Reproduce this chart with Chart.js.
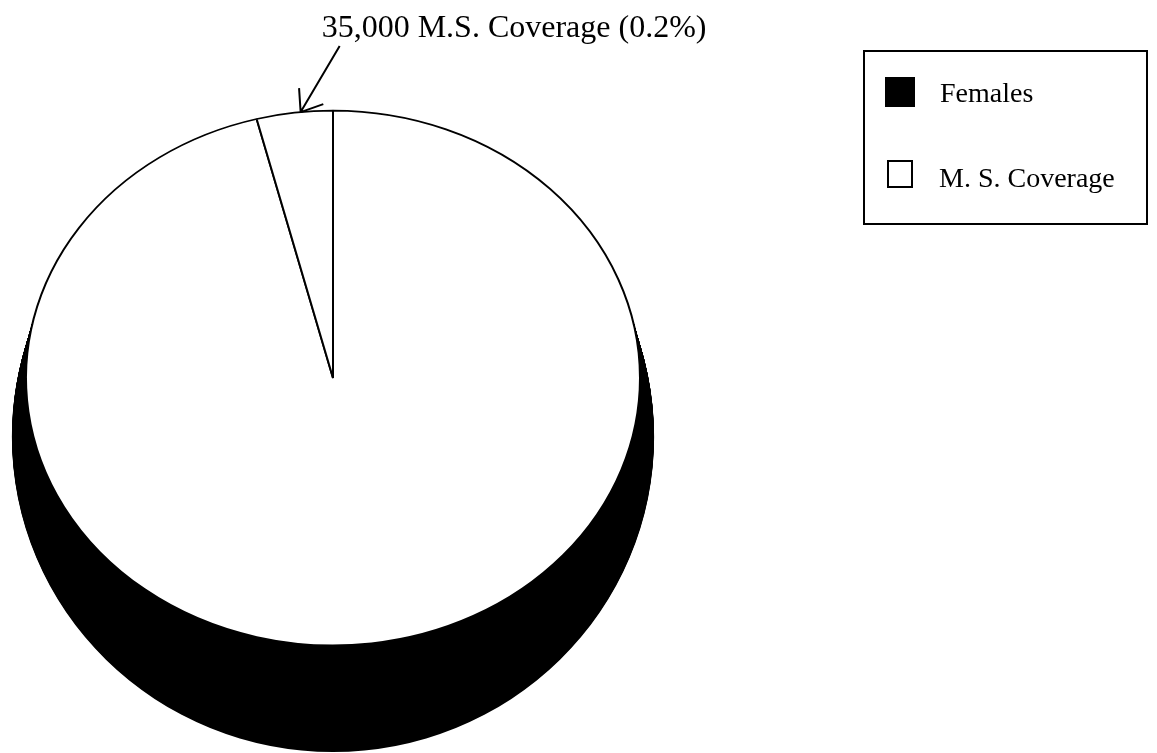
<!DOCTYPE html>
<html>
<head>
<meta charset="utf-8">
<script src="https://cdn.jsdelivr.net/npm/chart.js@4"></script>
<style>
  body { margin: 0; background: #fff; }
  #wrap { position: relative; width: 1157px; height: 753px; }
  #pie { position: absolute; left: 0; top: 0; }
  #legendBox {
    position: absolute; left: 863px; top: 50px; width: 281px; height: 171px;
    border: 2px solid #000;
    font-family: "Liberation Serif", "DejaVu Serif", serif; font-size: 28px; color: #000;
  }
  .item { position: absolute; line-height: 28px; white-space: nowrap; }
  .swatch { position: absolute; box-sizing: border-box; border: 2px solid #000; }
</style>
</head>
<body>
<div id="wrap">
  <canvas id="pie" width="1157" height="753"></canvas>
  <div id="legendBox"></div>
</div>
<script>
const sliceLabels = ["Females", "M. S. Coverage"];
// share of the pie as drawn (the M.S. wedge is drawn much wider than its 0.2%)
const sliceShares = [96, 4];
const legendColors = ["#000000", "#ffffff"];
const calloutText = "35,000 M.S. Coverage (0.2%)";

// top face is an ellipse, the black side is the pie pushed down and widened
const squash = 0.871;
const depthShift = 59;
const depthGrowX = 0.046;
const depthGrowY = 0.155;

// legend (html box with a border, like the original)
const legendBox = document.getElementById("legendBox");
const legendRows = [
  { sw: { left: 20, top: 25, w: 30, h: 30 }, text: { left: 75, top: 27 } },
  { sw: { left: 22, top: 108, w: 26, h: 28 }, text: { left: 74, top: 112 } }
];
sliceLabels.forEach((label, i) => {
  const r = legendRows[i];
  const sw = document.createElement("div");
  sw.className = "swatch";
  sw.style.left = r.sw.left + "px";
  sw.style.top = r.sw.top + "px";
  sw.style.width = r.sw.w + "px";
  sw.style.height = r.sw.h + "px";
  sw.style.background = legendColors[i];
  legendBox.appendChild(sw);
  const tx = document.createElement("div");
  tx.className = "item";
  tx.style.left = r.text.left + "px";
  tx.style.top = r.text.top + "px";
  tx.textContent = label;
  legendBox.appendChild(tx);
});

const pie3d = {
  id: "pie3d",
  beforeDatasetsDraw(chart) {
    const ctx = chart.ctx;
    const arcs = chart.getDatasetMeta(0).data;
    const cx = arcs[0].x, cy = arcs[0].y;

    // extruded black side
    ctx.save();
    ctx.fillStyle = "#000";
    const steps = 120;
    for (let i = steps; i >= 1; i--) {
      const t = i / steps;
      ctx.save();
      ctx.translate(cx, cy + depthShift * t);
      ctx.scale(1 + depthGrowX * t, squash + depthGrowY * t);
      ctx.translate(-cx, -cy);
      arcs.forEach(a => {
        ctx.beginPath();
        ctx.moveTo(a.x, a.y);
        ctx.arc(a.x, a.y, a.outerRadius, a.startAngle, a.endAngle);
        ctx.closePath();
        ctx.fill();
      });
      ctx.restore();
    }
    ctx.restore();

    // squash the top face
    ctx.save();
    ctx.translate(cx, cy);
    ctx.scale(1, squash);
    ctx.translate(-cx, -cy);
  },
  afterDatasetsDraw(chart) {
    chart.ctx.restore();
  },
  afterDraw(chart) {
    const ctx = chart.ctx;
    const ms = chart.getDatasetMeta(0).data[1];
    const ang = ms.endAngle - 0.42 * (ms.endAngle - ms.startAngle);
    const tipX = ms.x + ms.outerRadius * Math.cos(ang);
    const tipY = ms.y + ms.outerRadius * Math.sin(ang) * squash;
    const tailX = tipX + 39, tailY = tipY - 66;

    ctx.save();
    ctx.strokeStyle = "#000";
    ctx.lineWidth = 2;
    ctx.beginPath();
    ctx.moveTo(tailX, tailY);
    ctx.lineTo(tipX, tipY);
    const back = Math.atan2(tailY - tipY, tailX - tipX);
    [-0.6, 0.7].forEach(d => {
      ctx.moveTo(tipX, tipY);
      ctx.lineTo(tipX + 24 * Math.cos(back + d), tipY + 24 * Math.sin(back + d));
    });
    ctx.stroke();

    ctx.fillStyle = "#000";
    ctx.font = '32px "Liberation Serif"';
    ctx.textAlign = "left";
    ctx.textBaseline = "alphabetic";
    ctx.fillText(calloutText, tipX + 21, tipY - 75);
    ctx.restore();
  }
};

new Chart(document.getElementById("pie"), {
  type: "pie",
  data: {
    labels: sliceLabels,
    datasets: [{
      data: sliceShares,
      backgroundColor: "#ffffff",
      borderColor: "#000000",
      borderWidth: 2
    }]
  },
  options: {
    responsive: false,
    animation: false,
    events: [],
    layout: { padding: { left: 25, right: 516, top: 70, bottom: 67 } },
    plugins: {
      legend: { display: false },
      tooltip: { enabled: false }
    }
  },
  plugins: [pie3d]
});
</script>
</body>
</html>
